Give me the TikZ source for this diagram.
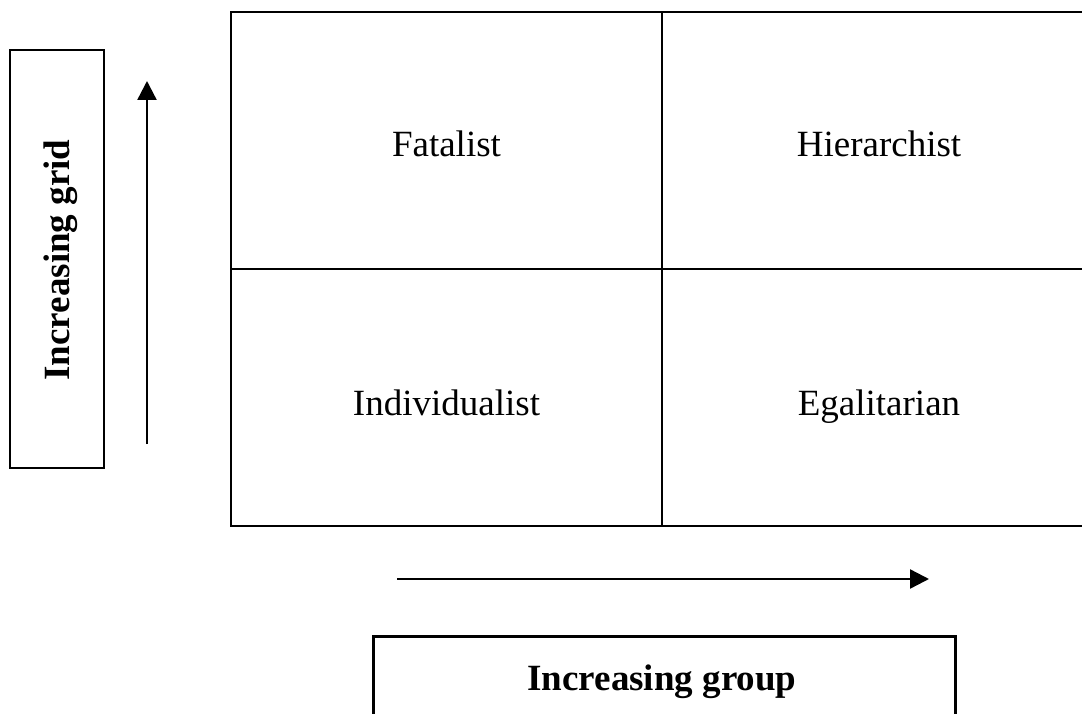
\documentclass[tikz,border=0pt]{standalone}
\usepackage{fontspec}
\setmainfont{Liberation Serif}
\usetikzlibrary{arrows.meta}
\begin{document}
\begin{tikzpicture}[x=1pt,y=-1pt,
  txt/.style={font=\fontsize{37}{40}\selectfont,inner sep=0pt,anchor=base},
  bold/.style={font=\fontsize{37}{40}\selectfont\bfseries,inner sep=0pt,anchor=base},
  cell/.style={draw=black,line width=2pt,rectangle,inner sep=0pt},
  axisbox/.style={draw=black,line width=2.6pt,rectangle,inner sep=0pt},
  axisarrow/.style={line width=2.4pt,-{Triangle[length=19pt,width=19pt]}}]
\useasboundingbox (0,0) rectangle (1082,714);
\clip (0,0) rectangle (1082,714);
% grid cells
\node[cell,minimum width=431,minimum height=257] (fat) at (446.5,140.5) {};
\node[cell,minimum width=434,minimum height=257] (hie) at (879,140.5) {};
\node[cell,minimum width=431,minimum height=257] (ind) at (446.5,397.5) {};
\node[cell,minimum width=434,minimum height=257] (ega) at (879,397.5) {};
\node[txt] (fatl) at (446.5,157) {Fatalist};
\node[txt] (hiel) at (879,157) {Hierarchist};
\node[txt] (indl) at (446.5,415) {Individualist};
\node[txt] (egal) at (879,415) {Egalitarian};
% left axis box
\node[axisbox,minimum width=94,minimum height=418] (gridbox) at (57,259) {};
\node[bold,rotate=90] (gridlab) at (69,260) {Increasing grid};
% bottom axis box
\node[axisbox,minimum width=582,minimum height=120,anchor=north west] (groupbox) at (372,635) {};
\node[bold] (grouplab) at (662,690) {Increasing group};
% arrows
\coordinate (gs) at (147,444);
\coordinate (ge) at (147,81);
\coordinate (hs) at (397,579);
\coordinate (he) at (929,579);
\draw[axisarrow] (gs) -- (ge);
\draw[axisarrow] (hs) -- (he);
\end{tikzpicture}
\end{document}
